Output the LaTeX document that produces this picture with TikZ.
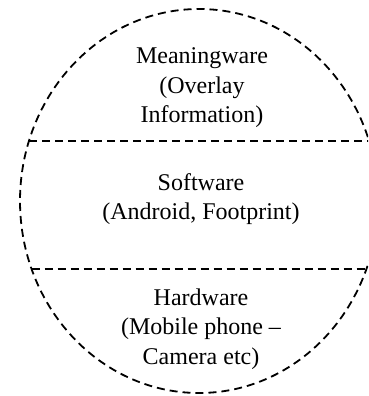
\documentclass[tikz,border=0pt]{standalone}
\usepackage{fontspec}
\setmainfont{Liberation Serif}
\usetikzlibrary{shapes.geometric}
\begin{document}
\begin{tikzpicture}[x=1pt,y=-1pt,
  dashline/.style={line width=1.8pt, dash pattern=on 8pt off 5pt},
  layer/.style={align=center, font=\fontsize{24}{29.5}\selectfont, inner sep=0pt}]
\clip (0,0) rectangle (368,396);
\useasboundingbox (0,0) rectangle (368,396);
\node[ellipse, draw, dashline, minimum width=358pt, minimum height=384pt, inner sep=0pt] (outer) at (199,201) {};
\coordinate (l1a) at (29,141);
\coordinate (l1b) at (369,141);
\coordinate (l2a) at (31.6,269);
\coordinate (l2b) at (366.4,269);
\draw[dashline] (l1a) -- (l1b);
\draw[dashline] (l2a) -- (l2b);
\node[layer] (mw) at (202,88) {Meaningware\\(Overlay\\Information)};
\node[layer] (sw) at (201,199) {Software\\(Android, Footprint)};
\node[layer] (hw) at (201,329) {Hardware\\(Mobile phone –\\Camera etc)};
\end{tikzpicture}
\end{document}
